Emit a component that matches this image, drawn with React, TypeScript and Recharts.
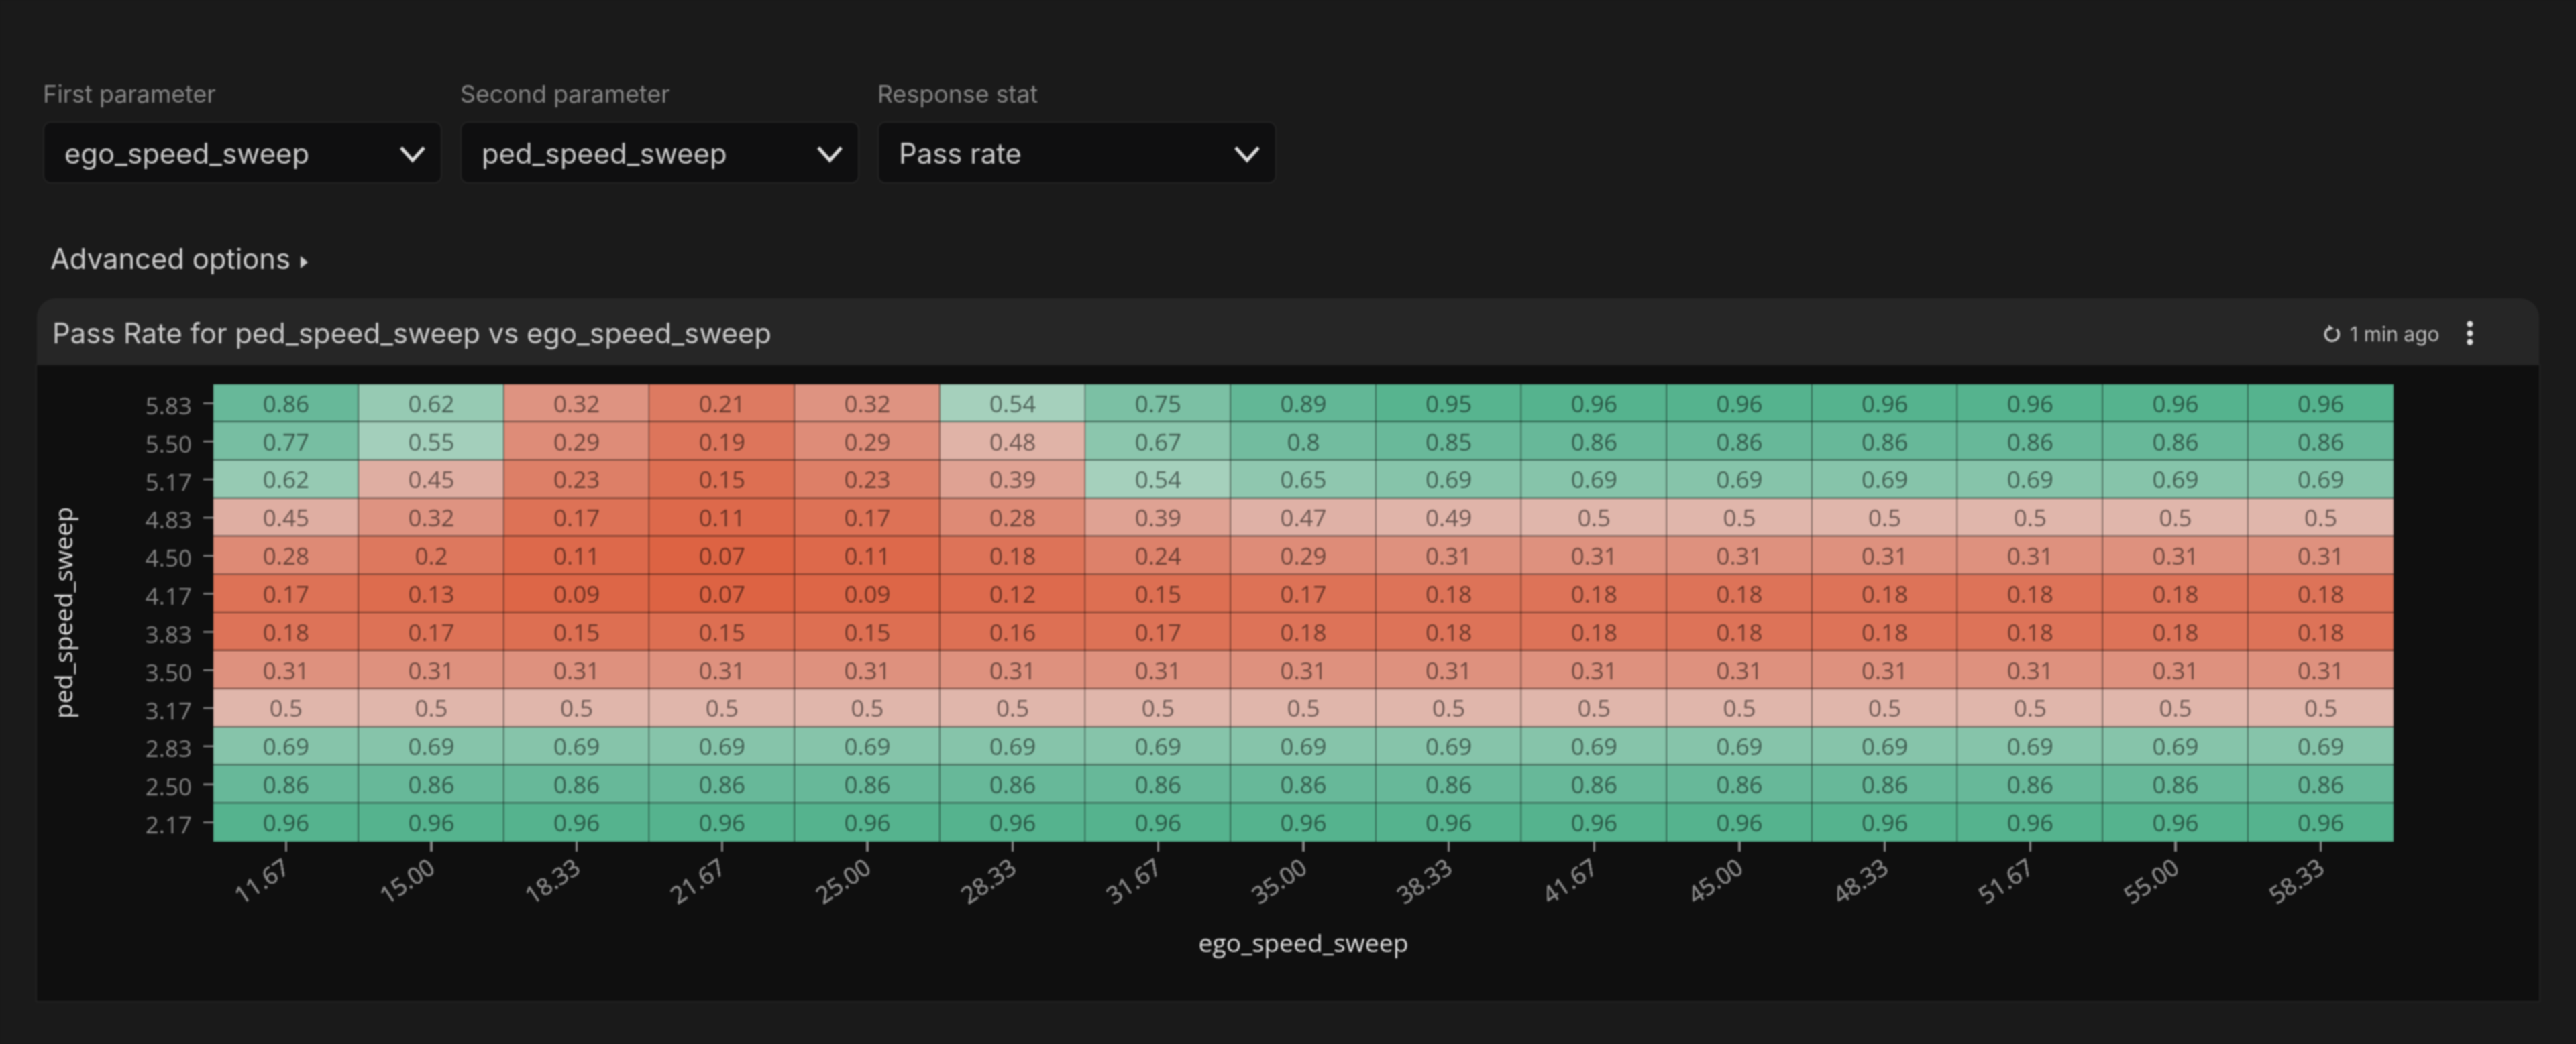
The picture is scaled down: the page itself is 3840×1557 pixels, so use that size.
import { Scatter, ScatterChart, XAxis, YAxis } from "recharts";

const egoSpeeds = ["11.67", "15.00", "18.33", "21.67", "25.00", "28.33", "31.67", "35.00", "38.33", "41.67", "45.00", "48.33", "51.67", "55.00", "58.33"];
const pedSpeeds = ["5.83", "5.50", "5.17", "4.83", "4.50", "4.17", "3.83", "3.50", "3.17", "2.83", "2.50", "2.17"];

const row583 = [0.86, 0.62, 0.32, 0.21, 0.32, 0.54, 0.75, 0.89, 0.95, 0.96, 0.96, 0.96, 0.96, 0.96, 0.96];
const row550 = [0.77, 0.55, 0.29, 0.19, 0.29, 0.48, 0.67, 0.8, 0.85, 0.86, 0.86, 0.86, 0.86, 0.86, 0.86];
const row517 = [0.62, 0.45, 0.23, 0.15, 0.23, 0.39, 0.54, 0.65, 0.69, 0.69, 0.69, 0.69, 0.69, 0.69, 0.69];
const row483 = [0.45, 0.32, 0.17, 0.11, 0.17, 0.28, 0.39, 0.47, 0.49, 0.5, 0.5, 0.5, 0.5, 0.5, 0.5];
const row450 = [0.28, 0.2, 0.11, 0.07, 0.11, 0.18, 0.24, 0.29, 0.31, 0.31, 0.31, 0.31, 0.31, 0.31, 0.31];
const row417 = [0.17, 0.13, 0.09, 0.07, 0.09, 0.12, 0.15, 0.17, 0.18, 0.18, 0.18, 0.18, 0.18, 0.18, 0.18];
const row383 = [0.18, 0.17, 0.15, 0.15, 0.15, 0.16, 0.17, 0.18, 0.18, 0.18, 0.18, 0.18, 0.18, 0.18, 0.18];
const row350 = [0.31, 0.31, 0.31, 0.31, 0.31, 0.31, 0.31, 0.31, 0.31, 0.31, 0.31, 0.31, 0.31, 0.31, 0.31];
const row317 = [0.5, 0.5, 0.5, 0.5, 0.5, 0.5, 0.5, 0.5, 0.5, 0.5, 0.5, 0.5, 0.5, 0.5, 0.5];
const row283 = [0.69, 0.69, 0.69, 0.69, 0.69, 0.69, 0.69, 0.69, 0.69, 0.69, 0.69, 0.69, 0.69, 0.69, 0.69];
const row250 = [0.86, 0.86, 0.86, 0.86, 0.86, 0.86, 0.86, 0.86, 0.86, 0.86, 0.86, 0.86, 0.86, 0.86, 0.86];
const row217 = [0.96, 0.96, 0.96, 0.96, 0.96, 0.96, 0.96, 0.96, 0.96, 0.96, 0.96, 0.96, 0.96, 0.96, 0.96];

const rows = [row583, row550, row517, row483, row450, row417, row383, row350, row317, row283, row250, row217];

// colour per value, red below 0.5 and green above
const colorStops: [number, number[]][] = [
  [0.07, [221, 99, 67]],
  [0.18, [221, 115, 88]],
  [0.31, [222, 145, 126]],
  [0.45, [223, 174, 162]],
  [0.5, [224, 182, 171]],
  [0.54, [165, 208, 188]],
  [0.62, [150, 202, 179]],
  [0.69, [134, 196, 170]],
  [0.86, [103, 184, 153]],
  [0.96, [85, 179, 142]],
];

const cells = rows.flatMap((row, r) =>
  row.map((value, c) => ({ ego: egoSpeeds[c], ped: pedSpeeds[r], value }))
);

const CHART_W = 3730;
const CHART_H = 948;
const Y_AXIS_W = 263;
const X_AXIS_H = 238;
const MARGIN_TOP = 28;
const MARGIN_RIGHT = 217;
const CELL_W = (CHART_W - Y_AXIS_W - MARGIN_RIGHT) / egoSpeeds.length;
const CELL_H = (CHART_H - X_AXIS_H - MARGIN_TOP) / pedSpeeds.length;

const chartFont = '"Open Sans", sans-serif';
const uiFont = "Inter, sans-serif";

function cellColor(v: number) {
  for (let i = 1; i < colorStops.length; i++) {
    const [v0, c0] = colorStops[i - 1]!;
    const [v1, c1] = colorStops[i]!;
    if (v <= v1) {
      const t = Math.max(0, (v - v0) / (v1 - v0));
      return `rgb(${c0.map((ch, k) => Math.round(ch + (c1[k]! - ch) * t)).join(",")})`;
    }
  }
  return "rgb(85,179,142)";
}

function HeatCell(props: any) {
  const { cx, cy, payload } = props;
  const left = cx - CELL_W / 2;
  const top = cy - CELL_H / 2;
  return (
    <g>
      <rect x={left} y={top} width={CELL_W} height={CELL_H} fill={cellColor(payload.value)} />
      {payload.ego !== egoSpeeds[egoSpeeds.length - 1] && (
        <line x1={left + CELL_W} x2={left + CELL_W} y1={top} y2={top + CELL_H} stroke="rgba(0,0,0,0.55)" strokeWidth={2.5} />
      )}
      {payload.ped !== pedSpeeds[pedSpeeds.length - 1] && (
        <line x1={left} x2={left + CELL_W} y1={top + CELL_H} y2={top + CELL_H} stroke="rgba(0,0,0,0.42)" strokeWidth={4} />
      )}
      <text
        x={cx}
        y={cy + 4}
        textAnchor="middle"
        dominantBaseline="middle"
        fontSize={35}
        fontFamily={chartFont}
        fill="rgba(0,0,0,0.52)"
      >
        {payload.value}
      </text>
    </g>
  );
}

function Field({ label, value, left }: { label: string; value: string; left: number }) {
  return (
    <>
      <div style={{ position: "absolute", left, top: 118, fontSize: 35.8, color: "#858585", fontFamily: uiFont }}>
        {label}
      </div>
      <div
        style={{
          position: "absolute",
          left,
          top: 181,
          width: 595,
          height: 93,
          boxSizing: "border-box",
          background: "#0f0f10",
          border: "2px solid #232323",
          borderRadius: 12,
          color: "#c9c9c9",
          fontSize: 41.8,
          lineHeight: "93px",
          paddingLeft: 30,
          fontFamily: uiFont,
        }}
      >
        {value}
      </div>
      <svg style={{ position: "absolute", left: left + 531, top: 216 }} width={40} height={28}>
        <path d="M3 4 L20 23 L37 4" fill="none" stroke="#dedede" strokeWidth={5} />
      </svg>
    </>
  );
}

export default function App() {
  return (
    <>
      <style>{"html, body { margin: 0; background: #1a1a1a; overflow: hidden; }"}</style>
      <div
        style={{
          position: "absolute",
          left: 0,
          top: 0,
          width: 3840,
          height: 1557,
          overflow: "hidden",
          background: "#1a1a1a",
          filter: "blur(1px)",
        }}
      >
        <Field label="First parameter" value="ego_speed_sweep" left={64} />
        <Field label="Second parameter" value="ped_speed_sweep" left={686} />
        <Field label="Response stat" value="Pass rate" left={1308} />

        <div style={{ position: "absolute", left: 75, top: 361, fontSize: 41.8, color: "#cfcfcf", fontFamily: uiFont }}>
          Advanced options
        </div>
        <svg style={{ position: "absolute", left: 448, top: 381 }} width={12} height={20}>
          <path d="M0 1 L11 10 L0 19 Z" fill="#c9c9c9" />
        </svg>

        {/* card header */}
        <div
          style={{
            position: "absolute",
            left: 55,
            top: 445,
            width: 3730,
            height: 100,
            background: "#262626",
            borderRadius: "28px 28px 0 0",
          }}
        />
        <div style={{ position: "absolute", left: 78, top: 472, fontSize: 41.8, color: "#c9c9c9", fontFamily: uiFont }}>
          Pass Rate for ped_speed_sweep vs ego_speed_sweep
        </div>
        <svg style={{ position: "absolute", left: 3462, top: 482 }} width={30} height={32}>
          <path d="M21 9 A10 10 0 1 1 9 8" fill="none" stroke="#c4c4c4" strokeWidth={3.5} />
          <path d="M9 2 L9 11 L17 8 Z" fill="#c4c4c4" />
        </svg>
        <div style={{ position: "absolute", left: 3503, top: 480, fontSize: 30, color: "#bdbdbd", fontFamily: uiFont }}>
          1 min ago
        </div>
        <svg style={{ position: "absolute", left: 3674, top: 476 }} width={16} height={42}>
          <circle cx={8} cy={7} r={4.5} fill="#e2e2e2" />
          <circle cx={8} cy={21} r={4.5} fill="#e2e2e2" />
          <circle cx={8} cy={34} r={4.5} fill="#e2e2e2" />
        </svg>

        {/* card body */}
        <div
          style={{
            position: "absolute",
            left: 55,
            top: 545,
            width: CHART_W,
            height: CHART_H,
            background: "#0f0f0f",
            outline: "2px solid #222222",
          }}
        >
          <ScatterChart
            width={CHART_W}
            height={CHART_H}
            margin={{ top: MARGIN_TOP, right: MARGIN_RIGHT, left: 0, bottom: 0 }}
          >
            <XAxis
              type="category"
              dataKey="ego"
              allowDuplicatedCategory={false}
              scale="band"
              height={X_AXIS_H}
              axisLine={false}
              tickLine={{ stroke: "#8a8a8a", strokeWidth: 2.5 }}
              tickSize={15}
              tickMargin={9}
              interval={0}
              angle={-34}
              textAnchor="end"
              tick={{ fill: "#858585", fontSize: 35, fontFamily: chartFont, dx: -6 }}
              label={{
                value: "ego_speed_sweep",
                position: "insideBottom",
                offset: 73,
                fill: "#dddddd",
                fontSize: 37.3,
                fontFamily: chartFont,
              }}
            />
            <YAxis
              type="category"
              dataKey="ped"
              allowDuplicatedCategory={false}
              scale="band"
              reversed
              width={Y_AXIS_W}
              axisLine={false}
              tickLine={{ stroke: "#8a8a8a", strokeWidth: 2.5 }}
              tickSize={15}
              tickMargin={17}
              interval={0}
              tick={{ fill: "#858585", fontSize: 35, fontFamily: chartFont, dy: 4 }}
              label={{
                value: "ped_speed_sweep",
                angle: -90,
                position: "insideLeft",
                offset: 40,
                fill: "#dddddd",
                fontSize: 37.3,
                fontFamily: chartFont,
                style: { textAnchor: "middle" },
              }}
            />
            <Scatter data={cells} shape={HeatCell} isAnimationActive={false} />
          </ScatterChart>
        </div>
      </div>
    </>
  );
}
